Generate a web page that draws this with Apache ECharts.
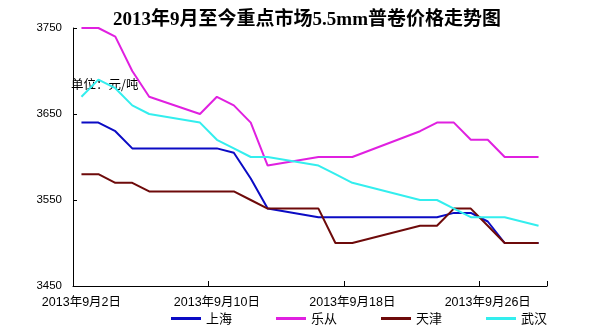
<!DOCTYPE html>
<html>
<head>
<meta charset="utf-8">
<script src="https://cdn.jsdelivr.net/npm/echarts@6/dist/echarts.min.js"></script>
<style>
  html, body { margin: 0; padding: 0; background: #fff; }
  #chart { width: 600px; height: 332px; }
</style>
</head>
<body>
<div id="chart"></div>
<script>
// Daily calendar from 2 Sep to 29 Sep 2013; non-trading days hold null
const dates = [
  '2013年9月2日', '2013年9月3日', '2013年9月4日', '2013年9月5日', '2013年9月6日',
  '2013年9月7日', '2013年9月8日', '2013年9月9日', '2013年9月10日', '2013年9月11日',
  '2013年9月12日', '2013年9月13日', '2013年9月14日', '2013年9月15日', '2013年9月16日',
  '2013年9月17日', '2013年9月18日', '2013年9月19日', '2013年9月20日', '2013年9月21日',
  '2013年9月22日', '2013年9月23日', '2013年9月24日', '2013年9月25日', '2013年9月26日',
  '2013年9月27日', '2013年9月28日', '2013年9月29日'
];

const shanghai = [3640, 3640, 3630, 3610, 3610, null, null, 3610, 3610, 3605,
                  3575, 3540, null, null, 3530, 3530, 3530, null, null, null,
                  3530, 3530, 3535, 3535, 3525, 3500, null, 3500];
const lecong   = [3750, 3750, 3740, 3700, 3670, null, null, 3650, 3670, 3660,
                  3640, 3590, null, null, 3600, 3600, 3600, null, null, null,
                  3630, 3640, 3640, 3620, 3620, 3600, null, 3600];
const tianjin  = [3580, 3580, 3570, 3570, 3560, null, null, 3560, 3560, 3560,
                  3550, 3540, null, null, 3540, 3500, 3500, null, null, null,
                  3520, 3520, 3540, 3540, 3520, 3500, null, 3500];
const wuhan    = [3670, 3690, 3680, 3660, 3650, null, null, 3640, 3620, 3610,
                  3600, 3600, null, null, 3590, 3580, 3570, null, null, null,
                  3550, 3550, 3540, 3530, 3530, 3530, null, 3520];

const seriesNames = ['上海', '乐从', '天津', '武汉'];
const seriesColors = ['#0B0BC4', '#E020E0', '#6E0A0A', '#33EEEE'];
const seriesValues = [shanghai, lecong, tianjin, wuhan];

const yMin = 3450, yMax = 3750, yStep = 100;

const chart = echarts.init(document.getElementById('chart'), null, { renderer: 'canvas' });

chart.setOption({
  animation: false,
  backgroundColor: '#ffffff',
  graphic: [
    {
      type: 'text', x: 307, y: 20,
      style: {
        text: '2013年9月至今重点市场5.5mm普卷价格走势图',
        font: 'bold 19px "Liberation Serif", "Noto Sans CJK SC"',
        fill: '#000', align: 'center', verticalAlign: 'middle'
      }
    },
    {
      type: 'text', x: 71, y: 84,
      style: {
        text: '单位：元/吨',
        font: '12.5px "Noto Sans CJK SC"',
        fill: '#000', align: 'left', verticalAlign: 'middle'
      }
    }
  ],
  grid: { left: 73, right: 53, top: 28, bottom: 46, containLabel: false },
  legend: {
    data: seriesNames,
    left: 166, top: 307,
    icon: 'rect', itemWidth: 30, itemHeight: 3, itemGap: 44,
    textStyle: { fontSize: 13, color: '#000', fontFamily: 'Noto Sans CJK SC' }
  },
  xAxis: {
    type: 'category',
    data: dates,
    boundaryGap: true,
    axisLine: { lineStyle: { color: '#000', width: 1 } },
    axisTick: { show: true, inside: true, length: 5, interval: 7, lineStyle: { color: '#000' } },
    axisLabel: {
      interval: 7, margin: 10, color: '#000', fontSize: 12.5,
      fontFamily: '"Liberation Sans", "Noto Sans CJK SC"'
    },
    splitLine: { show: false }
  },
  yAxis: {
    type: 'value',
    min: yMin, max: yMax, interval: yStep,
    axisLine: { show: true, lineStyle: { color: '#000', width: 1 } },
    axisTick: { show: true, inside: true, length: 4, lineStyle: { color: '#000' } },
    axisLabel: {
      margin: 11, color: '#000', fontSize: 11.5, fontFamily: 'Liberation Sans',
      formatter: (v) => String(v)
    },
    splitLine: { show: false }
  },
  series: seriesNames.map((name, i) => ({
    name: name,
    type: 'line',
    data: seriesValues[i],
    connectNulls: true,
    showSymbol: false,
    symbol: 'none',
    color: seriesColors[i],
    lineStyle: { color: seriesColors[i], width: 2 }
  }))
});
</script>
</body>
</html>
